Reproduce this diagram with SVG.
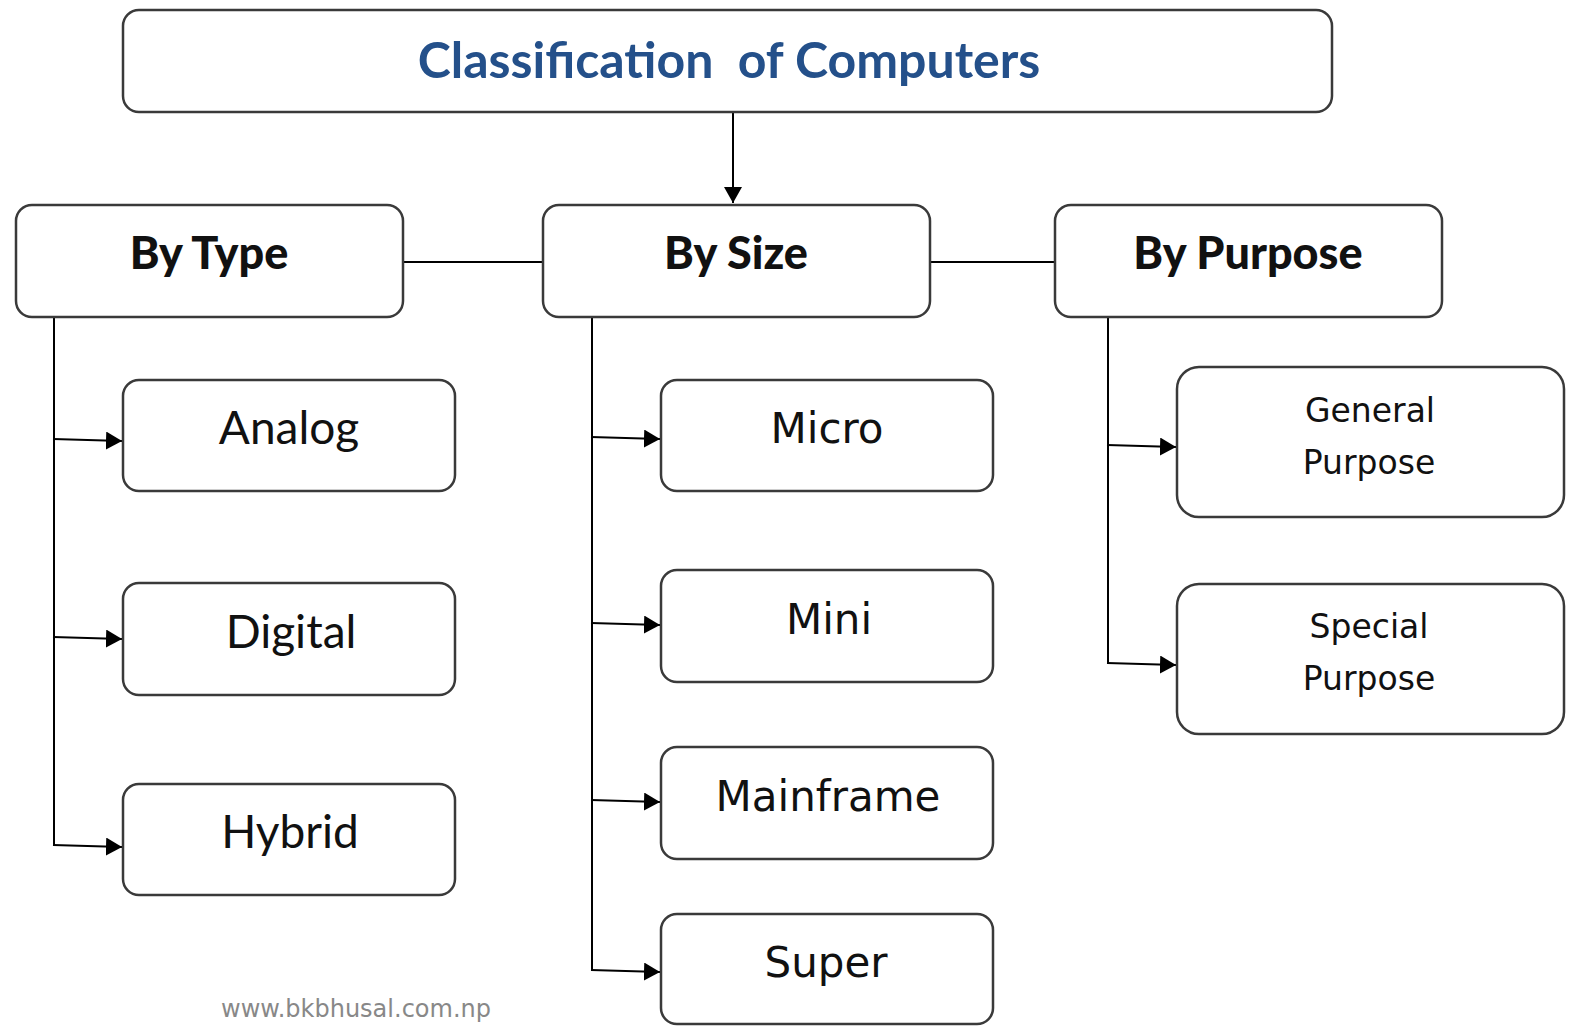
<svg xmlns="http://www.w3.org/2000/svg" width="1581" height="1035" viewBox="0 0 1581 1035">
<style>
.box{fill:#fff;stroke:#3a3a3a;stroke-width:2.5}
.c{font-family:Lato,"Liberation Sans",sans-serif;fill:#111;text-anchor:middle}
.v{font-family:"DejaVu Sans","Liberation Sans",sans-serif;fill:#111;text-anchor:middle}
.head{font-weight:900;font-size:45px}
.leaf{font-size:46px}
.lv{font-size:42px}
.sm{font-size:33px}
.ln{stroke:#000;stroke-width:2;fill:none}
</style>
<defs>
<marker id="ah2" viewBox="0 0 16 18" refX="16" refY="9" markerWidth="16" markerHeight="18" markerUnits="userSpaceOnUse" orient="auto">
<path d="M0,0 L16,9 L0,18 Z" fill="#000"/>
</marker>
</defs>
<rect width="1581" height="1035" fill="#fff"/>
<g id="connectors">
<line class="ln" x1="733" y1="112" x2="733" y2="203" marker-end="url(#ah2)"/>
<line class="ln" x1="403" y1="262" x2="543" y2="262"/>
<line class="ln" x1="930" y1="262" x2="1055" y2="262"/>
<line class="ln" x1="54" y1="317" x2="54" y2="846"/>
<line class="ln" x1="53" y1="439" x2="122" y2="441" marker-end="url(#ah2)"/>
<line class="ln" x1="53" y1="637" x2="122" y2="639" marker-end="url(#ah2)"/>
<line class="ln" x1="53" y1="845" x2="122" y2="847" marker-end="url(#ah2)"/>
<line class="ln" x1="592" y1="317" x2="592" y2="971"/>
<line class="ln" x1="591" y1="437" x2="660" y2="439" marker-end="url(#ah2)"/>
<line class="ln" x1="591" y1="623" x2="660" y2="625" marker-end="url(#ah2)"/>
<line class="ln" x1="591" y1="800" x2="660" y2="802" marker-end="url(#ah2)"/>
<line class="ln" x1="591" y1="970" x2="660" y2="972" marker-end="url(#ah2)"/>
<line class="ln" x1="1108" y1="317" x2="1108" y2="664"/>
<line class="ln" x1="1107" y1="445" x2="1176" y2="447" marker-end="url(#ah2)"/>
<line class="ln" x1="1107" y1="663" x2="1176" y2="665" marker-end="url(#ah2)"/>
</g>
<g id="title">
<rect class="box" x="123" y="10" width="1209" height="102" rx="16"/>
<text x="729" y="78" font-family="Lato,'Liberation Sans',sans-serif" font-weight="bold" font-size="50" fill="#24508a" text-anchor="middle" xml:space="preserve">Classification  of Computers</text>
</g>
<g id="bytype">
<rect class="box" x="16" y="205" width="387" height="112" rx="16"/>
<text class="c head" x="209" y="269">By Type</text>
</g>
<g id="bysize">
<rect class="box" x="543" y="205" width="387" height="112" rx="16"/>
<text class="c head" x="736" y="269">By Size</text>
</g>
<g id="bypurpose">
<rect class="box" x="1055" y="205" width="387" height="112" rx="16"/>
<text class="c head" x="1248" y="269">By Purpose</text>
</g>
<g id="analog">
<rect class="box" x="123" y="380" width="332" height="111" rx="16"/>
<text class="c leaf" x="289" y="444">Analog</text>
</g>
<g id="digital">
<rect class="box" x="123" y="583" width="332" height="112" rx="16"/>
<text class="c leaf" x="291" y="648">Digital</text>
</g>
<g id="hybrid">
<rect class="box" x="123" y="784" width="332" height="111" rx="16"/>
<text class="c leaf" x="290" y="848">Hybrid</text>
</g>
<g id="micro">
<rect class="box" x="661" y="380" width="332" height="111" rx="16"/>
<text class="v lv" x="827" y="443">Micro</text>
</g>
<g id="mini">
<rect class="box" x="661" y="570" width="332" height="112" rx="16"/>
<text class="v lv" x="829" y="634">Mini</text>
</g>
<g id="mainframe">
<rect class="box" x="661" y="747" width="332" height="112" rx="16"/>
<text class="v lv" x="828" y="811">Mainframe</text>
</g>
<g id="super">
<rect class="box" x="661" y="914" width="332" height="110" rx="16"/>
<text class="v lv" x="826" y="977">Super</text>
</g>
<g id="general">
<rect class="box" x="1177" y="367" width="387" height="150" rx="22"/>
<text class="v sm" x="1370" y="422">General</text>
<text class="v sm" x="1369" y="474">Purpose</text>
</g>
<g id="special">
<rect class="box" x="1177" y="584" width="387" height="150" rx="22"/>
<text class="v sm" x="1369" y="638">Special</text>
<text class="v sm" x="1369" y="690">Purpose</text>
</g>
<text x="356" y="1017" font-family="'DejaVu Sans',sans-serif" font-size="24" fill="#888" text-anchor="middle">www.bkbhusal.com.np</text>
</svg>
